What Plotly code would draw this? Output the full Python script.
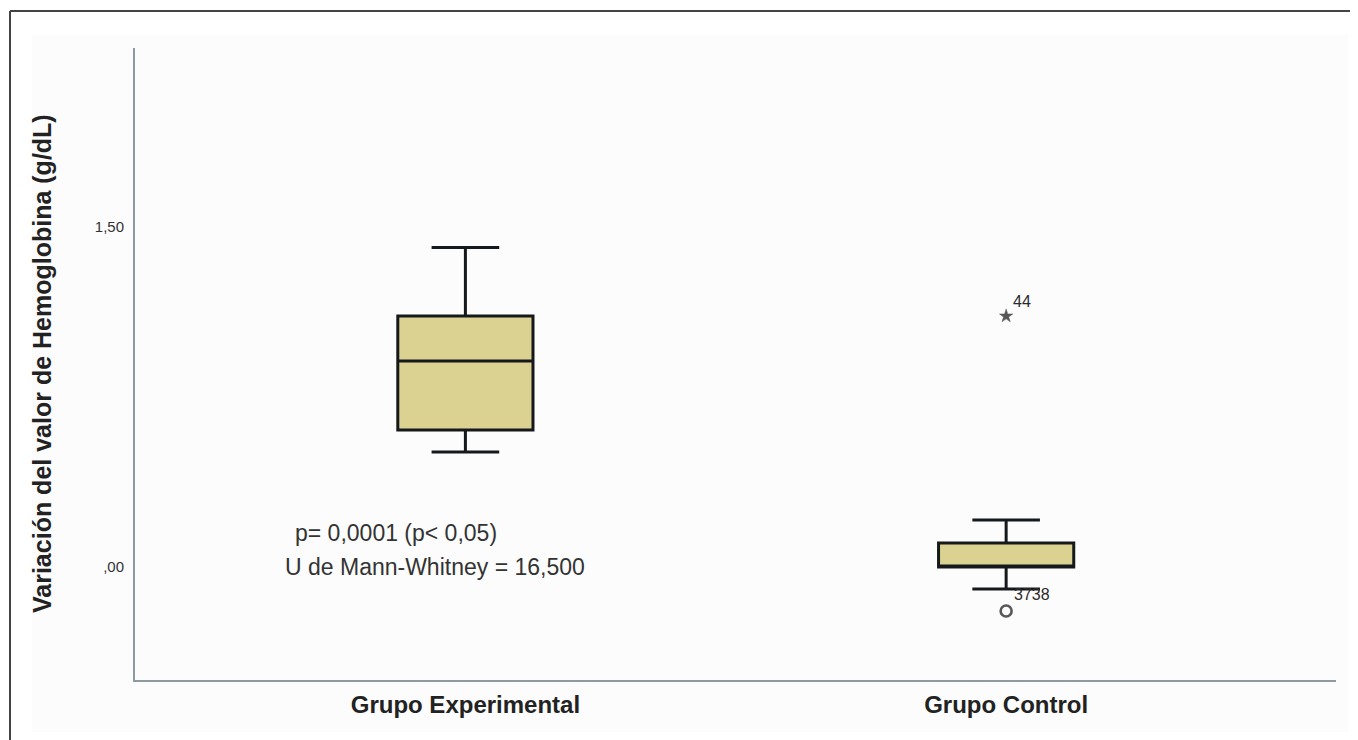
import plotly.graph_objects as go

categories = ["Grupo Experimental", "Grupo Control"]
q1 = [0.604, 0.0]
median = [0.909, 0.0]
q3 = [1.107, 0.106]
lower_whisker = [0.507, -0.097]
upper_whisker = [1.41, 0.207]

outlier_cat = ["Grupo Control", "Grupo Control"]
outlier_val = [1.107, -0.194]
outlier_symbol = ["star", "circle-open"]
outlier_label = ["44", "3738"]

y_ticks = [0.0, 1.5]
y_tick_text = [",00", "1,50"]

fill = "#DBD190"
dark = "#16191b"
axis_col = "#8d9ba1"
FONT = "Liberation Sans, Arial"

fig = go.Figure()
fig.add_trace(go.Box(
    x=categories, q1=q1, median=median, q3=q3,
    lowerfence=lower_whisker, upperfence=upper_whisker,
    fillcolor=fill, line=dict(color=dark, width=3),
    width=0.25, whiskerwidth=0.5, boxpoints=False, showlegend=False,
    hoverinfo="skip",
))
fig.add_trace(go.Scatter(
    x=outlier_cat, y=outlier_val, mode="markers",
    marker=dict(symbol=outlier_symbol, size=[10, 11], color="#111",
                line=dict(color="#111", width=[0.5, 2.6])),
    showlegend=False, hoverinfo="skip",
))

shifts = [(16, 15), (26, 16)]
for c, v, lab, (dx, dy) in zip(outlier_cat, outlier_val, outlier_label, shifts):
    fig.add_annotation(x=c, y=v, text=lab, showarrow=False, xshift=dx, yshift=dy,
                       font=dict(family=FONT, size=16, color="#2a2a2a"))

fig.add_annotation(x=-0.128, y=0.15, text="p= 0,0001 (p< 0,05)", showarrow=False,
                   font=dict(family=FONT, size=23, color="#333"))
fig.add_annotation(x=-0.056, y=0.0, text="U de Mann-Whitney = 16,500", showarrow=False,
                   font=dict(family=FONT, size=23, color="#333"))

fig.add_annotation(xref="paper", yref="paper", x=0, y=0.5, xshift=-93,
                   text="<b>Variación del valor de Hemoglobina (g/dL)</b>", textangle=-90,
                   showarrow=False, xanchor="center", yanchor="middle",
                   font=dict(family=FONT, size=25, color="#222"))

# panel background and outer frame (paper coords relative to plot area 135..1336 x 48..680)
fig.add_shape(type="rect", xref="paper", yref="paper", x0=-103/1201, x1=(1348-135)/1201,
              y0=-52/632, y1=(680-35)/632, fillcolor="#fcfcfc", line=dict(width=0), layer="below")
fig.add_shape(type="line", xref="paper", yref="paper", x0=-125/1201, x1=(1366-135)/1201,
              y0=(680-11)/632, y1=(680-11)/632, line=dict(color="#444", width=2))
fig.add_shape(type="line", xref="paper", yref="paper", x0=-125/1201, x1=-125/1201,
              y0=(680-11)/632, y1=-80/632, line=dict(color="#444", width=2))

fig.update_layout(
    width=1358, height=740,
    margin=dict(l=127, r=30, t=40, b=68),
    paper_bgcolor="white", plot_bgcolor="#fcfcfc",
    font=dict(family=FONT, color="#222"),
    xaxis=dict(range=[-0.611, 1.61], showgrid=False, zeroline=False,
               showline=True, linecolor=axis_col, linewidth=2,
               tickvals=categories, ticktext=["<b>%s</b>" % c for c in categories],
               tickfont=dict(size=24, color="#222"), ticks="", ticklabelstandoff=2),
    yaxis=dict(range=[-0.4985, 2.29], showgrid=False, zeroline=False,
               showline=True, linecolor=axis_col, linewidth=2,
               tickvals=y_ticks, ticktext=y_tick_text,
               tickfont=dict(size=15, color="#333"), ticks="", ticklabelstandoff=6),
)

fig.write_html("out.html")
